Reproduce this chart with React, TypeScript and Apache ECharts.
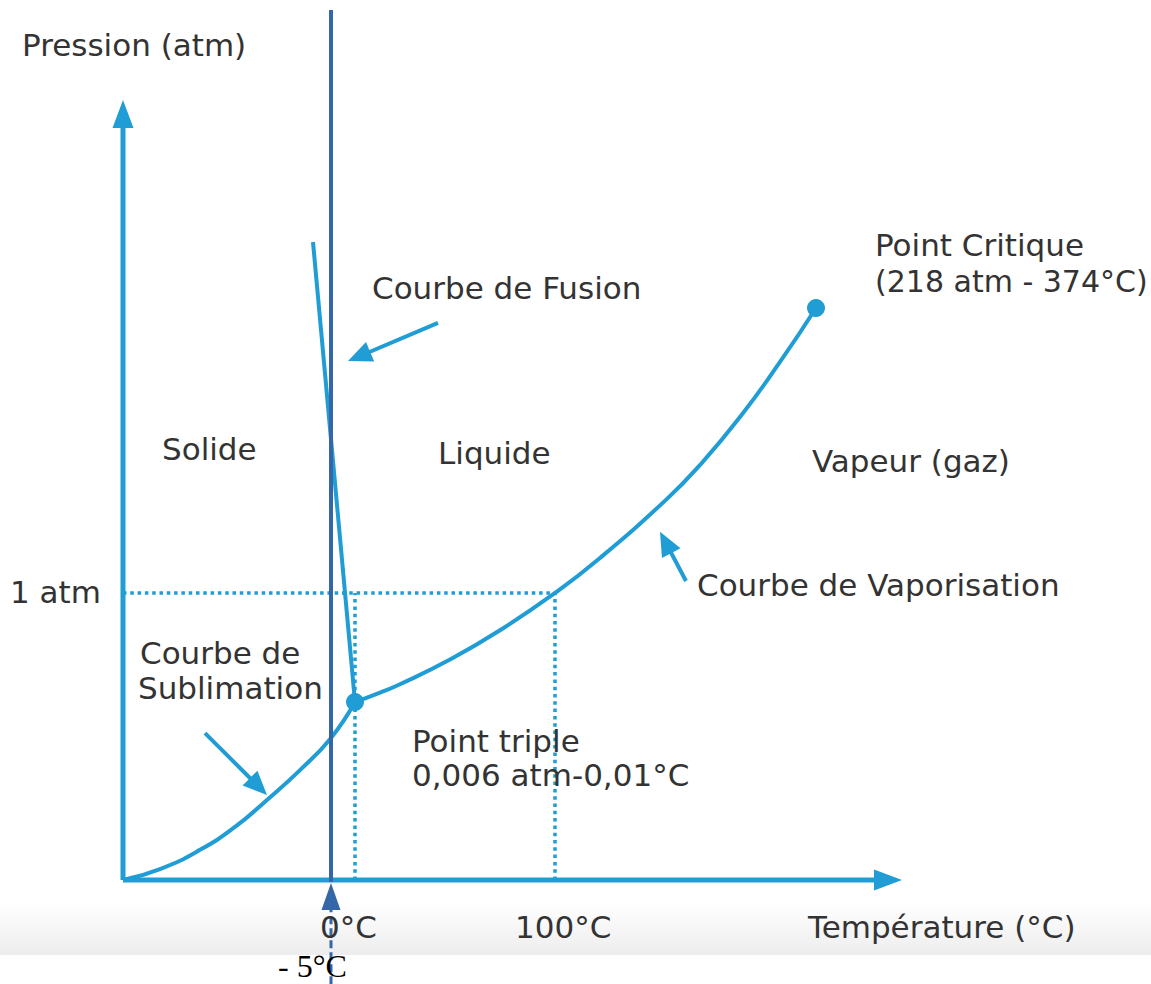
import React, { useEffect, useRef } from "react";
import * as echarts from "echarts";

// Schematic units: x ≈ "°C" on a schematic scale (0 = 0°C guide, 100 = 100°C guide),
// y ≈ pressure on a schematic scale (100 = 1 atm).
const X_MIN = -177.5;
const X_MAX = 398;
const Y_MIN = -36.237;
const Y_MAX = 306.62;

const sublimationCurve: number[][] = [
  [-116, 0], [-97.5, 3.8], [-77.5, 10.5], [-60, 18.5], [-44, 27.9],
  [-27.5, 38.3], [-12, 49.5], [0, 62],
];
const vaporisationCurve: number[][] = [
  [0, 62], [12.5, 65.3], [22.5, 68.2], [47.5, 76.8], [72.5, 87.0], [100, 100],
  [122.5, 112.2], [156, 132.8], [172.5, 144.6], [192.5, 161.3], [212.5, 180.5],
  [230.5, 199.3],
];
const fusionCurve: number[][] = [[0, 62], [-21, 222.3]];
const keyPoints: number[][] = [[0, 62], [230.5, 199.3]];

const oneAtmGuide: number[][] = [[-116, 100], [100, 100]];
const zeroGuide: number[][] = [[0, 0], [0, 100]];
const hundredGuide: number[][] = [[100, 0], [100, 100]];

const axisArrows: number[][] = [
  [-116, 0, -116, 271.8],
  [-116, 0, 273.5, 0],
];
const noteArrows: number[][] = [
  [41.5, 194.1, -3.5, 180.8],
  [165.5, 104.2, 152.5, 121.3],
  [-75, 51.2, -44, 29.6],
];
const markerLine: number[][] = [[-12, 303.1], [-12, -0.7]];
const markerArrow: number[][] = [[-12, -36.3, -12, -1.05]];

const labelTexts: string[] = [
  "Pression (atm)", "Courbe de Fusion", "Point Critique",
  "Solide", "Liquide", "Vapeur (gaz)", "1 atm", "Courbe de Vaporisation",
  "Courbe de", "Sublimation", "Point triple", "0,006 atm-0,01°C",
  "0°C", "100°C", "Température (°C)",
];
const labelAnchors: number[][] = [
  [-166.5, 290.9], [8.5, 206.3], [260, 221.3],
  [-96.5, 150.2], [41.5, 148.8], [228.5, 146.0], [-172.5, 100.3], [171, 102.8],
  [-107.5, 79.1], [-108.5, 66.9], [28.5, 48.4], [28.5, 36.6],
  [-17.5, -16.4], [80, -16.4], [226.5, -16.4],
];
const criticalValueText = "(218 atm - 374°C)";
const criticalValueAnchor: number[] = [260, 208.7];
const markerLabel = "- 5°C";
const markerLabelAnchor: number[] = [-38.5, -30.0];

const LIGHT = "#1f9dd4";
const DARK = "#3566a8";
const TEXT = "#333333";

function arrowSeries(
  data: number[][],
  color: string,
  width: number,
  headLen: number,
  headWidth: number,
  dash?: number[]
) {
  return {
    type: "custom",
    data,
    clip: false,
    encode: { x: [0, 2], y: [1, 3] },
    dimensions: ["x1", "y1", "x2", "y2"],
    z: 5,
    renderItem: (_p: any, api: any) => {
      const a = api.coord([api.value(0), api.value(1)]);
      const b = api.coord([api.value(2), api.value(3)]);
      const dx = b[0] - a[0];
      const dy = b[1] - a[1];
      const len = Math.hypot(dx, dy) || 1;
      const ux = dx / len;
      const uy = dy / len;
      const bx = b[0] - ux * headLen;
      const by = b[1] - uy * headLen;
      const nx = -uy;
      const ny = ux;
      return {
        type: "group",
        children: [
          {
            type: "line",
            shape: { x1: a[0], y1: a[1], x2: bx + ux * 2, y2: by + uy * 2 },
            style: { stroke: color, lineWidth: width, lineDash: dash || null },
          },
          {
            type: "polygon",
            shape: {
              points: [
                [b[0], b[1]],
                [bx + (nx * headWidth) / 2, by + (ny * headWidth) / 2],
                [bx - (nx * headWidth) / 2, by - (ny * headWidth) / 2],
              ],
            },
            style: { fill: color },
          },
        ],
      };
    },
  };
}

function textSeries(texts: string[], anchors: number[][], font: string, color: string) {
  return {
    type: "custom",
    clip: false,
    z: 10,
    data: anchors,
    encode: { x: 0, y: 1 },
    renderItem: (p: any, api: any) => {
      const pt = api.coord([api.value(0), api.value(1)]);
      return {
        type: "text",
        x: pt[0],
        y: pt[1],
        style: {
          text: texts[p.dataIndex],
          font,
          fill: color,
          align: "left",
          verticalAlign: "middle",
        },
      };
    },
  };
}

export default function App() {
  const ref = useRef<HTMLDivElement>(null);
  useEffect(() => {
    if (!ref.current) return;
    const chart = echarts.init(ref.current, null, { renderer: "svg" });
    const curveLine = { color: LIGHT, width: 4 };
    const dotted = { color: LIGHT, width: 3.5, type: [3.5, 3.8] as any };
    chart.setOption({
      animation: false,
      backgroundColor: "#ffffff",
      grid: { left: 0, right: 0, top: 0, bottom: 0 },
      xAxis: { type: "value", min: X_MIN, max: X_MAX, show: false },
      yAxis: { type: "value", min: Y_MIN, max: Y_MAX, show: false },
      graphic: [
        {
          type: "rect",
          z: -10,
          silent: true,
          shape: { x: 0, y: 903, width: 1151, height: 52 },
          style: {
            fill: new echarts.graphic.LinearGradient(0, 0, 0, 1, [
              { offset: 0, color: "#ffffff" },
              { offset: 1, color: "#ededed" },
            ]),
          },
        },
      ],
      series: [
        { type: "line", data: oneAtmGuide, symbol: "none", lineStyle: dotted, z: 2 },
        { type: "line", data: zeroGuide, symbol: "none", lineStyle: dotted, z: 2 },
        { type: "line", data: hundredGuide, symbol: "none", lineStyle: dotted, z: 2 },
        arrowSeries(axisArrows, LIGHT, 5, 28, 21),
        {
          type: "line",
          data: sublimationCurve,
          symbol: "none",
          smooth: 0.5,
          lineStyle: curveLine,
          z: 3,
        },
        {
          type: "line",
          data: vaporisationCurve,
          symbol: "none",
          smooth: 0.5,
          lineStyle: curveLine,
          z: 3,
        },
        { type: "line", data: fusionCurve, symbol: "none", lineStyle: curveLine, z: 3 },
        {
          type: "scatter",
          data: keyPoints,
          symbol: "circle",
          symbolSize: 18,
          itemStyle: { color: LIGHT, opacity: 1 },
          z: 4,
        },
        arrowSeries(noteArrows, LIGHT, 4, 24, 21),
        {
          type: "line",
          data: markerLine,
          symbol: "none",
          lineStyle: { color: DARK, width: 4 },
          z: 6,
        },
        arrowSeries(markerArrow, DARK, 3, 27, 19, [8, 4]),
        textSeries(labelTexts, labelAnchors, "31px 'DejaVu Sans'", TEXT),
        textSeries([criticalValueText], [criticalValueAnchor], "30px 'DejaVu Sans'", TEXT),
        textSeries([markerLabel], [markerLabelAnchor], "32px 'Liberation Serif'", "#000000"),
      ],
    });
    return () => chart.dispose();
  }, []);
  return (
    <div
      ref={ref}
      style={{ position: "fixed", left: 0, top: 0, width: 1151, height: 984, background: "#fff" }}
    />
  );
}
